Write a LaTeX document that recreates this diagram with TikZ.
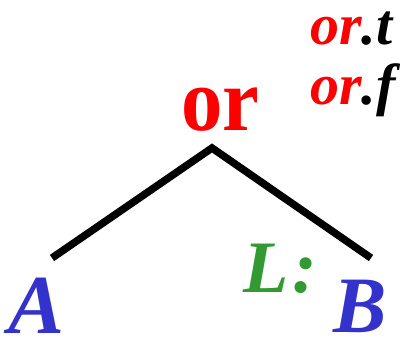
\documentclass[tikz,border=0pt]{standalone}
\usepackage{fontspec}
\setmainfont{Liberation Serif}
\definecolor{orred}{RGB}{255,0,0}
\definecolor{leafblue}{RGB}{51,51,204}
\definecolor{lgreen}{RGB}{51,153,51}
\begin{document}
\begin{tikzpicture}[x=1pt,y=-1pt,
  lbl/.style={inner sep=0pt,anchor=base west},
  edge/.style={line width=7.5pt,line join=miter}]
\useasboundingbox (0,0) rectangle (412,342);
\node[lbl,text=orred,xscale=0.92] (or) at (181,131) {\fontsize{90}{90}\selectfont\bfseries or};
\node[lbl] (ort) at (310,45) {\fontsize{58}{58}\selectfont\bfseries\itshape\textcolor{orred}{or}.t};
\node[lbl] (orf) at (310,105) {\fontsize{58}{58}\selectfont\bfseries\itshape\textcolor{orred}{or}.f};
\node[lbl,text=leafblue] (A) at (8,333) {\fontsize{84}{84}\selectfont\bfseries\itshape A};
\node[lbl,text=leafblue] (B) at (333,332) {\fontsize{80}{80}\selectfont\bfseries\itshape B};
\node[lbl,text=lgreen] (L) at (243,292) {\fontsize{74}{74}\selectfont\bfseries\itshape L\kern4pt:};
\coordinate (top) at (212,148);
\coordinate (lend) at (52,258);
\coordinate (rend) at (371,258);
\draw[edge] (lend) -- (top) -- (rend);
\end{tikzpicture}
\end{document}
